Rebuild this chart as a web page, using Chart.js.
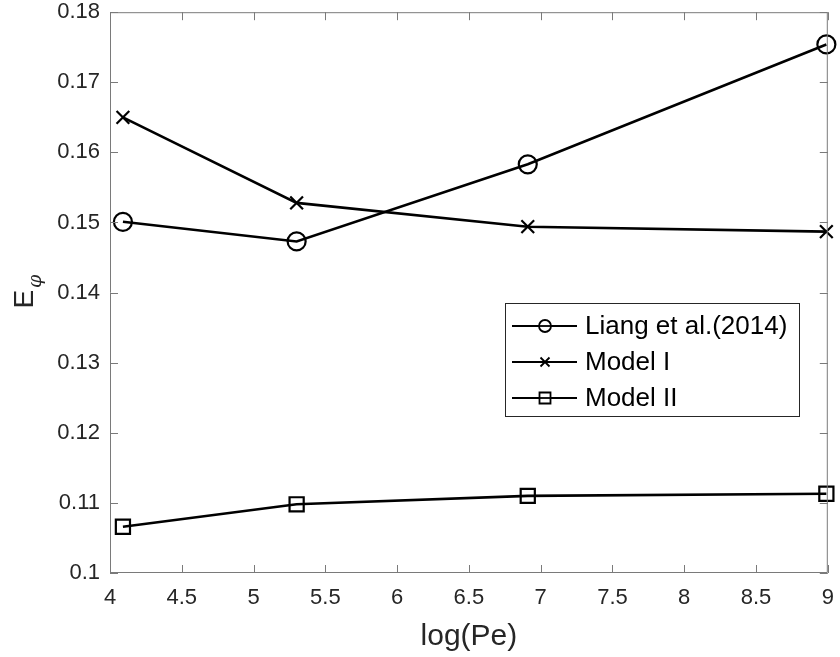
<!DOCTYPE html>
<html>
<head>
<meta charset="utf-8">
<script src="https://cdn.jsdelivr.net/npm/chart.js@4.4.1/dist/chart.umd.min.js"></script>
<style>
    html, body { margin: 0; padding: 0; background: #fff; }
    #wrap { width: 840px; height: 657px; }
</style>
</head>
<body>
<div id="wrap"><canvas id="chart" width="840" height="657"></canvas></div>
<script>
// Data (x = log(Pe))
const logPe = [4.09, 5.30, 6.91, 8.99];
const liang2014 = [0.1501, 0.1473, 0.1583, 0.1754];
const modelI = [0.1650, 0.1528, 0.1494, 0.1487];
const modelII = [0.1066, 0.1098, 0.1110, 0.1113];

const xTicks = [4, 4.5, 5, 5.5, 6, 6.5, 7, 7.5, 8, 8.5, 9];
const yTicks = [0.1, 0.11, 0.12, 0.13, 0.14, 0.15, 0.16, 0.17, 0.18];

const seriesNames = ['Liang et al.(2014)', 'Model I', 'Model II'];

const FONT = '"Liberation Sans", Arial, Helvetica, sans-serif';
const AXIS_TEXT = '#262626';
const AXIS_LINE = '#7a7a7a';

function toPoints(ys) {
    return logPe.map((x, i) => ({ x: x, y: ys[i] }));
}

function makeDataset(label, ys, style, radius) {
    return {
        label: label,
        data: toPoints(ys),
        borderColor: '#000',
        backgroundColor: 'rgba(0,0,0,0)',
        borderWidth: 2.6,
        pointStyle: style,
        pointRadius: radius,
        pointHoverRadius: radius,
        pointBorderWidth: 2.2,
        pointBorderColor: '#000',
        pointBackgroundColor: 'rgba(0,0,0,0)',
        tension: 0,
        clip: false
    };
}

// Box, inward ticks on all four sides, y title with subscript
const frameAndTitles = {
    id: 'frameAndTitles',
    afterDatasetsDraw(chart) {
        const ctx = chart.ctx;
        const a = chart.chartArea;
        const xs = chart.scales.x, ys = chart.scales.y;
        const tl = 8;
        ctx.save();
        ctx.strokeStyle = AXIS_LINE;
        ctx.lineWidth = 1;
        ctx.beginPath();
        ctx.rect(a.left + 0.5, a.top + 0.5, a.right - a.left - 1, a.bottom - a.top - 1);
        xTicks.forEach(v => {
            const px = Math.round(xs.getPixelForValue(v)) + 0.5;
            ctx.moveTo(px, a.bottom); ctx.lineTo(px, a.bottom - tl);
            ctx.moveTo(px, a.top); ctx.lineTo(px, a.top + tl);
        });
        yTicks.forEach(v => {
            const py = Math.round(ys.getPixelForValue(v)) + 0.5;
            ctx.moveTo(a.left, py); ctx.lineTo(a.left + tl, py);
            ctx.moveTo(a.right, py); ctx.lineTo(a.right - tl, py);
        });
        ctx.stroke();

        // y axis title: E with subscript phi
        const cy = (a.top + a.bottom) / 2;
        ctx.translate(33, cy + 16);
        ctx.rotate(-Math.PI / 2);
        ctx.fillStyle = AXIS_TEXT;
        ctx.textBaseline = 'alphabetic';
        ctx.textAlign = 'left';
        ctx.font = '28px ' + FONT;
        ctx.fillText('E', 0, 0);
        const w = ctx.measureText('E').width;
        ctx.font = 'italic 19px "DejaVu Serif", serif';
        ctx.fillText('\u03C6', w + 2, 8);
        ctx.restore();
    }
};

// Legend box with line + marker samples
const boxLegend = {
    id: 'boxLegend',
    afterDraw(chart) {
        const ctx = chart.ctx;
        const box = { left: 505, top: 303, right: 799, bottom: 416 };
        const rows = [326, 362, 398];
        ctx.save();
        ctx.fillStyle = '#fff';
        ctx.fillRect(box.left, box.top, box.right - box.left, box.bottom - box.top);
        ctx.strokeStyle = AXIS_TEXT;
        ctx.lineWidth = 1;
        ctx.strokeRect(box.left + 0.5, box.top + 0.5, box.right - box.left, box.bottom - box.top);

        chart.data.datasets.forEach((ds, i) => {
            const y = rows[i];
            ctx.strokeStyle = '#000';
            ctx.lineWidth = 2;
            ctx.beginPath();
            ctx.moveTo(512, y);
            ctx.lineTo(577, y);
            ctx.stroke();

            const mx = 545, r = 6;
            ctx.lineWidth = 1.8;
            ctx.fillStyle = '#fff';
            ctx.beginPath();
            if (ds.pointStyle === 'circle') {
                ctx.arc(mx, y, r, 0, Math.PI * 2);
                ctx.fill();
                ctx.stroke();
                ctx.beginPath();
                ctx.moveTo(mx - r, y); ctx.lineTo(mx + r, y);
                ctx.stroke();
            } else if (ds.pointStyle === 'crossRot') {
                ctx.moveTo(mx - 4.5, y - 4.5); ctx.lineTo(mx + 4.5, y + 4.5);
                ctx.moveTo(mx - 4.5, y + 4.5); ctx.lineTo(mx + 4.5, y - 4.5);
                ctx.stroke();
            } else {
                ctx.rect(mx - 5.5, y - 5.5, 11, 11);
                ctx.fill();
                ctx.stroke();
                ctx.beginPath();
                ctx.moveTo(mx - 5.5, y); ctx.lineTo(mx + 5.5, y);
                ctx.stroke();
            }

            ctx.fillStyle = '#000';
            ctx.font = '26px ' + FONT;
            ctx.textBaseline = 'middle';
            ctx.textAlign = 'left';
            ctx.fillText(ds.label, 585, y + 1);
        });
        ctx.restore();
    }
};

const tickFont = { family: FONT, size: 22 };

new Chart(document.getElementById('chart'), {
    type: 'line',
    data: {
        datasets: [
            makeDataset(seriesNames[0], liang2014, 'circle', 9),
            makeDataset(seriesNames[1], modelI, 'crossRot', 9),
            makeDataset(seriesNames[2], modelII, 'rect', 10)
        ]
    },
    options: {
        responsive: false,
        animation: false,
        events: [],
        layout: { padding: { top: 5, right: 7, left: 0, bottom: 0 } },
        plugins: {
            legend: { display: false },
            tooltip: { enabled: false }
        },
        scales: {
            x: {
                type: 'linear',
                min: 4,
                max: 9,
                grid: { display: false, drawTicks: false },
                border: { display: false },
                afterBuildTicks: scale => { scale.ticks = xTicks.map(v => ({ value: v })); },
                afterFit: scale => {
                    scale.height = 84;
                    scale.paddingLeft = 0;
                    scale.paddingRight = 0;
                },
                ticks: {
                    font: tickFont,
                    color: AXIS_TEXT,
                    padding: 12,
                    maxRotation: 0,
                    autoSkip: false,
                    callback: v => String(+v.toFixed(2))
                },
                title: {
                    display: true,
                    text: 'log(Pe)',
                    color: AXIS_TEXT,
                    font: { family: FONT, size: 30 },
                    padding: { top: 0, bottom: 2 }
                }
            },
            y: {
                type: 'linear',
                min: 0.1,
                max: 0.18,
                grid: { display: false, drawTicks: false },
                border: { display: false },
                afterBuildTicks: scale => { scale.ticks = yTicks.map(v => ({ value: v })); },
                afterFit: scale => {
                    scale.width = 110;
                    scale.paddingTop = 0;
                    scale.paddingBottom = 0;
                },
                ticks: {
                    font: tickFont,
                    color: AXIS_TEXT,
                    padding: 10,
                    autoSkip: false,
                    callback: v => String(+v.toFixed(2))
                }
            }
        }
    },
    plugins: [frameAndTitles, boxLegend]
});
</script>
</body>
</html>
